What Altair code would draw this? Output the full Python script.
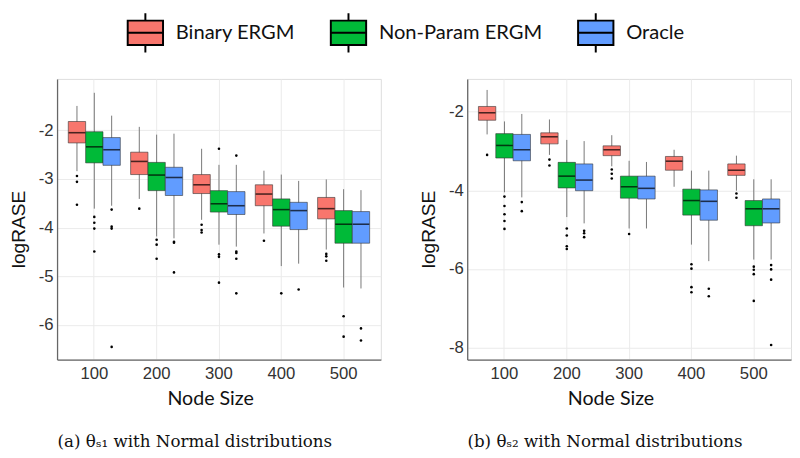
import altair as alt
import pandas as pd

sizes = ["100", "200", "300", "400", "500"]
methods = ["Binary ERGM", "Non-Param ERGM", "Oracle"]
colors = ["#F8766D", "#00BA38", "#619CFF"]

# ---------- panel (a) ----------
a_hi = {
    "Binary ERGM":    [-1.50, -1.93, -2.38, -2.83, -3.01],
    "Non-Param ERGM": [-1.23, -2.09, -2.71, -2.91, -3.21],
    "Oracle":         [-1.70, -2.07, -2.71, -3.04, -3.23],
}
a_q3 = {
    "Binary ERGM":    [-1.82, -2.45, -2.91, -3.12, -3.38],
    "Non-Param ERGM": [-2.03, -2.66, -3.24, -3.41, -3.65],
    "Oracle":         [-2.15, -2.76, -3.26, -3.48, -3.67],
}
a_med = {
    "Binary ERGM":    [-2.05, -2.64, -3.12, -3.31, -3.61],
    "Non-Param ERGM": [-2.34, -2.92, -3.51, -3.63, -3.93],
    "Oracle":         [-2.40, -2.97, -3.55, -3.65, -3.93],
}
a_q1 = {
    "Binary ERGM":    [-2.26, -2.91, -3.30, -3.55, -3.82],
    "Non-Param ERGM": [-2.67, -3.24, -3.68, -3.97, -4.32],
    "Oracle":         [-2.72, -3.34, -3.73, -4.04, -4.32],
}
a_lo = {
    "Binary ERGM":    [-2.84, -3.41, -3.84, -4.12, -4.45],
    "Non-Param ERGM": [-3.61, -4.18, -4.35, -4.79, -5.23],
    "Oracle":         [-3.55, -4.22, -4.39, -4.74, -5.25],
}
a_out = {
    "Binary ERGM":    [[-2.94, -3.06, -3.53], [-3.61], [-3.94, -4.05, -4.10], [-4.27], [-4.54, -4.59, -4.68]],
    "Non-Param ERGM": [[-3.78, -3.90, -4.02, -4.49], [-4.25, -4.35, -4.64], [-2.38, -4.55, -4.60, -5.13], [-5.35], [-5.82, -6.24]],
    "Oracle":         [[-3.63, -3.98, -4.02, -6.45], [-4.29, -4.31, -4.92], [-2.52, -4.49, -4.52, -4.64, -5.35], [-5.27], [-6.07, -6.32]],
}

# ---------- panel (b) ----------
b_hi = {
    "Binary ERGM":    [-1.45, -2.20, -2.60, -2.97, -3.12],
    "Non-Param ERGM": [-2.25, -2.72, -3.25, -3.50, -3.72],
    "Oracle":         [-2.06, -2.75, -3.28, -3.50, -3.72],
}
b_q3 = {
    "Binary ERGM":    [-1.87, -2.54, -2.87, -3.14, -3.33],
    "Non-Param ERGM": [-2.56, -3.29, -3.64, -3.97, -4.26],
    "Oracle":         [-2.58, -3.33, -3.64, -3.99, -4.22],
}
b_med = {
    "Binary ERGM":    [-2.03, -2.64, -2.97, -3.26, -3.49],
    "Non-Param ERGM": [-2.86, -3.64, -3.91, -4.26, -4.47],
    "Oracle":         [-2.97, -3.74, -3.95, -4.28, -4.47],
}
b_q1 = {
    "Binary ERGM":    [-2.22, -2.82, -3.12, -3.49, -3.62],
    "Non-Param ERGM": [-3.18, -3.94, -4.20, -4.63, -4.90],
    "Oracle":         [-3.25, -4.01, -4.22, -4.76, -4.83],
}
b_lo = {
    "Binary ERGM":    [-2.58, -3.10, -3.39, -3.91, -4.01],
    "Non-Param ERGM": [-4.05, -4.68, -4.97, -5.38, -5.76],
    "Oracle":         [-4.18, -4.84, -4.97, -5.80, -5.76],
}
b_out = {
    "Binary ERGM":    [[-3.10], [-3.22, -3.37], [-3.47, -3.58, -3.70], [], [-4.08, -4.19]],
    "Non-Param ERGM": [[-4.16, -4.40, -4.61, -4.78, -4.98], [-4.97, -5.15, -5.42, -5.49], [-5.11], [-5.88, -5.99, -6.46, -6.59], [-5.94, -6.02, -6.13, -6.81]],
    "Oracle":         [[-4.30, -4.53], [-5.03, -5.09, -5.19], [], [-6.50, -6.69], [-5.90, -6.01, -6.27, -7.93]],
}


def frames(hi, q3, med, q1, lo, out):
    rows, orows = [], []
    for m in methods:
        for i, s in enumerate(sizes):
            rows.append(dict(size=s, method=m, hi=hi[m][i], q3=q3[m][i],
                             med=med[m][i], q1=q1[m][i], lo=lo[m][i]))
            for v in out[m][i]:
                orows.append(dict(size=s, method=m, value=v))
    return pd.DataFrame(rows), pd.DataFrame(orows)


def panel(hi, q3, med, q1, lo, out, ydomain, yticks, caption, xtitle_x):
    box, outl = frames(hi, q3, med, q1, lo, out)
    x = alt.X("size:N", scale=alt.Scale(domain=sizes, paddingInner=0.165, paddingOuter=0.18),
              axis=alt.Axis(title="Node Size", labelAngle=0, ticks=False, grid=True,
                            bandPosition=0.5, gridColor="#ebebeb",
                            labelFont="Liberation Sans", labelFontSize=17, labelColor="#333",
                            titleFont="Lato", titleFontSize=20, titleFontWeight="normal",
                            titleColor="#111", labelPadding=6, titlePadding=8, titleX=xtitle_x,
                            domainColor="#666", domainWidth=1.3))
    xo = alt.XOffset("method:N", scale=alt.Scale(domain=methods))
    yscale = alt.Scale(domain=ydomain, nice=False, zero=False)
    yaxis = alt.Axis(title="logRASE", values=yticks, ticks=False, grid=True, gridColor="#ebebeb",
                     labelExpr="'' + datum.value", labelFont="Liberation Sans",
                     labelFontSize=17, labelColor="#333", labelPadding=4,
                     titleFont="Liberation Sans", titleFontSize=19.5, titleFontWeight="normal",
                     titleColor="#111", titlePadding=10, titleY=153,
                     domainColor="#666", domainWidth=1.3)
    base = alt.Chart(box)
    whisk = base.mark_rule(color="#777", strokeWidth=1).encode(
        x=x, xOffset=xo, y=alt.Y("lo:Q", scale=yscale, axis=yaxis), y2="hi:Q")
    bars = base.mark_bar(stroke="#333", strokeWidth=0.6).encode(
        x=x, xOffset=xo, y=alt.Y("q1:Q", scale=yscale, axis=yaxis), y2="q3:Q",
        color=alt.Color("method:N", scale=alt.Scale(domain=methods, range=colors),
                        legend=alt.Legend(title=None, orient="none", direction="horizontal",
                                          legendX=69, legendY=-68, padding=0,
                                          symbolType="M-0.9,-0.62H0.9V0.62H-0.9Z M-0.9,0H0.9 M0,-0.62V-1 M0,0.62V1",
                                          symbolSize=1600, symbolStrokeColor="black",
                                          symbolStrokeWidth=2, symbolOpacity=1,
                                          labelFont="Lato", labelFontSize=20.5, labelColor="#111",
                                          labelLimit=0, labelOffset=10, columnPadding=32)))
    meds = base.mark_tick(color="black", thickness=1.6, size=17).encode(
        x=x, xOffset=xo, y=alt.Y("med:Q", scale=yscale, axis=yaxis))
    pts = alt.Chart(outl).mark_circle(color="black", size=7, opacity=1).encode(
        x=x, xOffset=xo, y=alt.Y("value:Q", scale=yscale, axis=yaxis))
    return alt.layer(whisk, bars, meds, pts).properties(
        width=330, height=286,
        title=alt.TitleParams(caption, orient="bottom", font="DejaVu Serif", fontSize=17,
                              fontWeight="normal", color="#111", offset=26,
                              anchor="middle", frame="bounds"))


left = panel(a_hi, a_q3, a_med, a_q1, a_lo, a_out, [-6.71, -0.945], [-2, -3, -4, -5, -6],
             "(a) θₛ₁ with Normal distributions", 156)
right = panel(b_hi, b_q3, b_med, b_q1, b_lo, b_out, [-8.30, -1.17], [-2, -4, -6, -8],
              "(b) θₛ₂ with Normal distributions", 146)

chart = alt.hconcat(left, right, spacing=37).properties(
    padding={"left": 0, "top": 0, "right": 0, "bottom": 0}
).configure_view(stroke=None).configure(background="white")

chart.save("out.html", embed_options={"renderer": "svg", "actions": False})
